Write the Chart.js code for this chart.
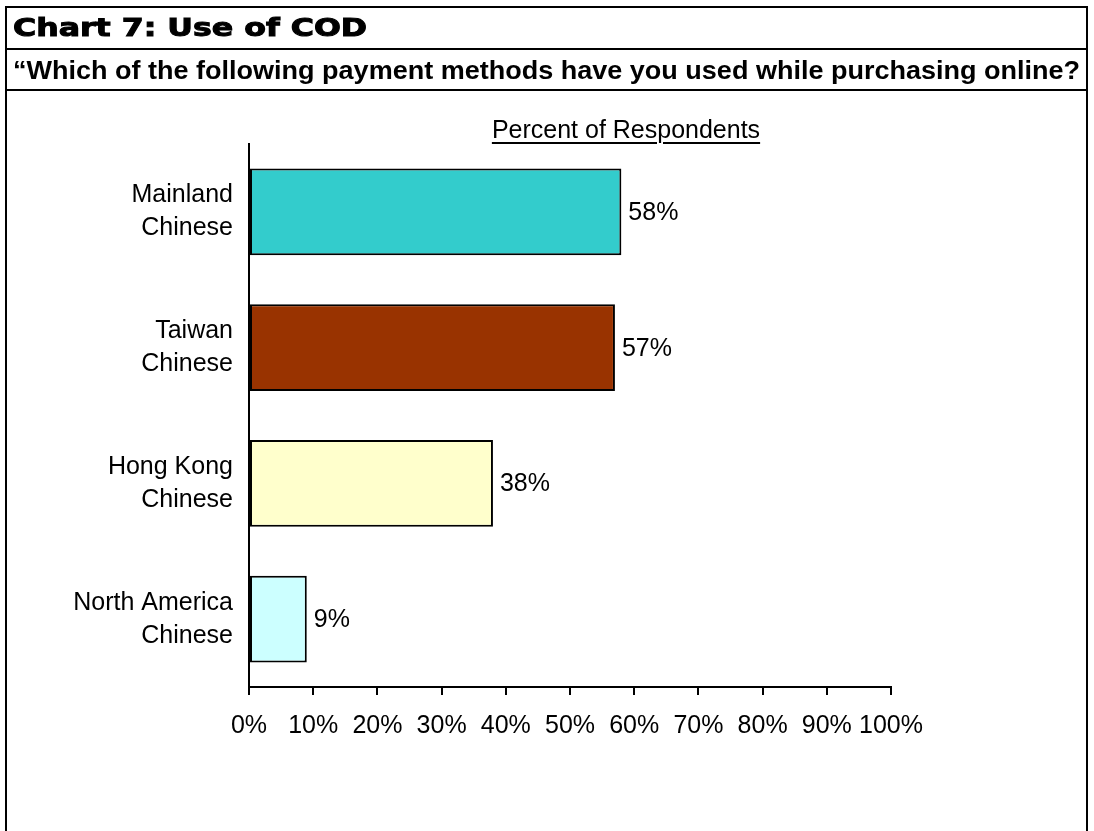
<!DOCTYPE html>
<html>
<head>
<meta charset="utf-8">
<title>Chart 7: Use of COD</title>
<script src="https://cdn.jsdelivr.net/npm/chart.js@4/dist/chart.umd.min.js"></script>
<style>
  html, body { margin: 0; padding: 0; background: #fff; }
  #page { position: relative; width: 1094px; height: 831px; overflow: hidden; }
  #chart { position: absolute; left: 0; top: 0; }
  .frame { position: absolute; left: 5px; top: 6px; width: 1079px; height: 825px;
           border-top: 2px solid #000; border-left: 2px solid #000; border-right: 2px solid #000; }
  .row { position: absolute; left: 0; right: 0; border-bottom: 2px solid #000; }
  .row span { position: absolute; left: 6px; white-space: nowrap; transform-origin: 0 50%; color: #000; }
  #head { top: 0; height: 40px; }
  #head span { font-family: "DejaVu Sans", sans-serif; font-weight: bold; font-size: 25px; top: 6px; line-height: 28px;
               -webkit-text-stroke: 1px #000; }
  #question { top: 42px; height: 39px; }
  #question span { font-family: "Liberation Sans", Arial, sans-serif; font-weight: bold; font-size: 26px; top: 5px; line-height: 30px; }
  #axisTitle { position: absolute; left: 426px; width: 400px; top: 114px; text-align: center;
               font-family: "Liberation Sans", Arial, sans-serif; font-size: 25px; line-height: 30px;
               text-decoration: underline; text-decoration-thickness: 2px; text-underline-offset: 4px; }
</style>
</head>
<body>
<div id="page">
  <canvas id="chart" width="1094" height="831"></canvas>
  <div class="frame">
    <div class="row" id="head"><span data-fit="354">Chart 7: Use of COD</span></div>
    <div class="row" id="question"><span data-fit="1067">“Which of the following payment methods have you used while purchasing online?</span></div>
  </div>
  <div id="axisTitle">Percent of Respondents</div>
</div>
<script>
// Respondent groups (two-line axis labels)
const groups = [
  ['Mainland', 'Chinese'],
  ['Taiwan', 'Chinese'],
  ['Hong Kong', 'Chinese'],
  ['North America', 'Chinese']
];
// Share of respondents who have paid cash on delivery, in percent
const codShare = [58, 57, 38, 9];
// Fill colour of each group's bar
const groupColors = ['#33CCCC', '#993300', '#FFFFCC', '#CCFFFF'];
// Percent scale ticks
const percentTicks = [0, 10, 20, 30, 40, 50, 60, 70, 80, 90, 100];

// Stretch the heading texts to the width of their rows
document.querySelectorAll('[data-fit]').forEach(el => {
  const target = parseFloat(el.dataset.fit);
  el.style.transform = 'scaleX(' + (target / el.offsetWidth) + ')';
});

const FONT = '"Liberation Sans", Arial, sans-serif';
Chart.defaults.font.family = FONT;
Chart.defaults.font.size = 25;
Chart.defaults.color = '#000';

// Value text written just past the end of each bar
const valueLabels = {
  id: 'valueLabels',
  afterDatasetsDraw(chart) {
    const ctx = chart.ctx;
    const meta = chart.getDatasetMeta(0);
    ctx.save();
    ctx.font = '25px ' + FONT;
    ctx.fillStyle = '#000';
    ctx.textAlign = 'left';
    ctx.textBaseline = 'middle';
    meta.data.forEach((bar, i) => {
      ctx.fillText(codShare[i] + '%', bar.x + 7, bar.y + 1);
    });
    ctx.restore();
  }
};

new Chart(document.getElementById('chart'), {
  type: 'bar',
  data: {
    labels: groups,
    datasets: [{
      data: codShare,
      backgroundColor: groupColors,
      borderColor: '#000',
      borderWidth: 2,
      borderSkipped: false,
      barPercentage: 0.64,
      categoryPercentage: 1
    }]
  },
  options: {
    indexAxis: 'y',
    responsive: false,
    animation: false,
    events: [],
    layout: { padding: { left: 0, top: 144, right: 203, bottom: 84 } },
    plugins: {
      legend: { display: false },
      tooltip: { enabled: false },
      title: { display: false }
    },
    scales: {
      x: {
        type: 'linear',
        min: 0,
        max: 100,
        afterBuildTicks: scale => { scale.ticks = percentTicks.map(v => ({ value: v })); },
        afterFit: scale => { scale.height = 60; },
        ticks: {
          callback: v => v + '%',
          font: { size: 25 },
          padding: 16,
          maxRotation: 0,
          autoSkip: false
        },
        grid: { drawOnChartArea: false, drawTicks: true, tickLength: 8, color: '#000', lineWidth: 2 },
        border: { display: true, color: '#000', width: 2 }
      },
      y: {
        afterFit: scale => { scale.width = 249; },
        ticks: {
          font: { size: 25, lineHeight: 1.32 },
          padding: 16,
          autoSkip: false
        },
        grid: { display: false, drawTicks: false },
        border: { display: true, color: '#000', width: 2 }
      }
    }
  },
  plugins: [valueLabels]
});
</script>
</body>
</html>
